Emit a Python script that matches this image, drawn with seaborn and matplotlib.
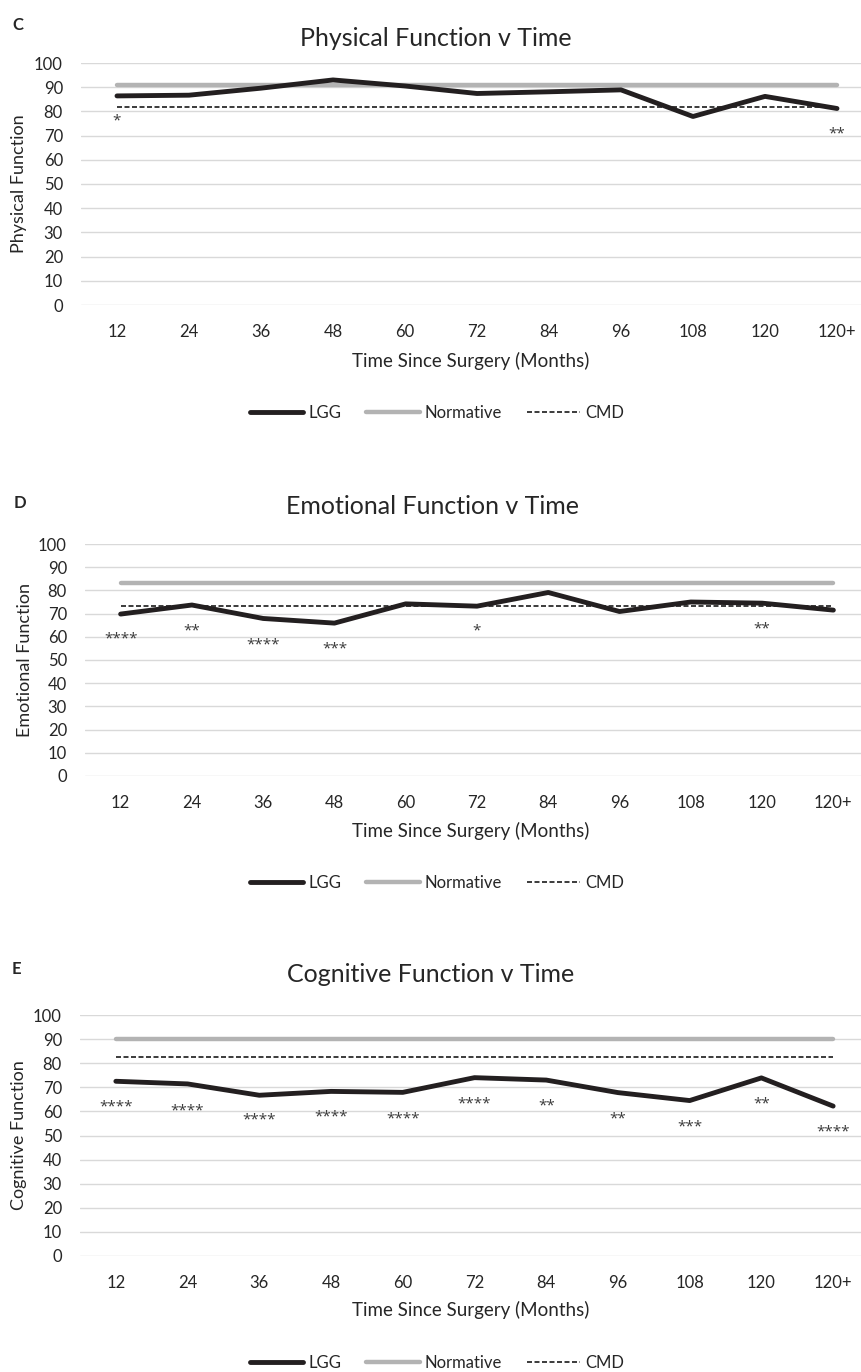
import matplotlib
matplotlib.use('Agg')
import matplotlib.pyplot as plt
import pandas as pd
import seaborn as sns

months = ['12', '24', '36', '48', '60', '72', '84', '96', '108', '120', '120+']

# Physical function
physical_lgg = [86.4, 86.7, 89.6, 93.0, 90.5, 87.4, 88.1, 88.9, 77.9, 86.2, 81.2]
physical_norm = 91.0
physical_cmd = 82.0
physical_star_at = ['12', '120+']
physical_star_txt = ['*', '**']
physical_star_y = [77.2, 71.9]

# Emotional function
emotional_lgg = [69.8, 73.7, 67.9, 65.9, 74.2, 73.2, 79.1, 70.9, 75.0, 74.5, 71.5]
emotional_norm = 83.2
emotional_cmd = 73.1
emotional_star_at = ['12', '24', '36', '48', '72', '120']
emotional_star_txt = ['****', '**', '****', '***', '*', '**']
emotional_star_y = [60.1, 63.9, 57.7, 56.1, 63.5, 64.7]

# Cognitive function
cognitive_lgg = [72.5, 71.4, 66.7, 68.3, 67.9, 74.0, 73.0, 67.8, 64.5, 73.9, 62.2]
cognitive_norm = 90.2
cognitive_cmd = 82.4
cognitive_star_at = months
cognitive_star_txt = ['****', '****', '****', '****', '****', '****', '**', '**', '***', '**', '****']
cognitive_star_y = [63.1, 61.5, 57.4, 58.9, 58.2, 64.3, 63.3, 58.2, 54.8, 64.2, 52.6]

sns.set_style('white')
plt.rcParams['font.family'] = ['Lato', 'DejaVu Sans']
plt.rcParams['text.color'] = '#262626'

W, H = 861, 1372
fig = plt.figure(figsize=(W / 100, H / 100), dpi=100)

panels = [
    dict(letter='C', letter_xy=(12, 25), title='Physical Function v Time', title_xy=(436, 38),
         ylabel='Physical Function', box=(81, 63, 873, 305), ylab_x=19, xlab_y=361, legend_y=413,
         lgg=physical_lgg, norm=physical_norm, cmd=physical_cmd,
         s_at=physical_star_at, s_txt=physical_star_txt, s_y=physical_star_y),
    dict(letter='D', letter_xy=(14, 503), title='Emotional Function v Time', title_xy=(433, 506),
         ylabel='Emotional Function', box=(85, 544, 869, 776), ylab_x=25, xlab_y=831, legend_y=883,
         lgg=emotional_lgg, norm=emotional_norm, cmd=emotional_cmd,
         s_at=emotional_star_at, s_txt=emotional_star_txt, s_y=emotional_star_y),
    dict(letter='E', letter_xy=(12, 969), title='Cognitive Function v Time', title_xy=(431, 975),
         ylabel='Cognitive Function', box=(80, 1015, 869, 1256), ylab_x=19, xlab_y=1310, legend_y=1363,
         lgg=cognitive_lgg, norm=cognitive_norm, cmd=cognitive_cmd,
         s_at=cognitive_star_at, s_txt=cognitive_star_txt, s_y=cognitive_star_y),
]

for p in panels:
    x0, y0, x1, y1 = p['box']
    ax = fig.add_axes([x0 / W, 1 - y1 / H, (x1 - x0) / W, (y1 - y0) / H])

    df = pd.DataFrame({'month': months, 'LGG': p['lgg'],
                       'Normative': [p['norm']] * len(months),
                       'CMD': [p['cmd']] * len(months)})

    sns.lineplot(data=df, x='month', y='Normative', ax=ax, sort=False, color='#b3b3b3',
                 lw=3.2, label='Normative', solid_capstyle='round', zorder=3)
    sns.lineplot(data=df, x='month', y='CMD', ax=ax, sort=False, color='#1a1a1a',
                 lw=1.2, label='CMD', dashes=(3, 1.5), zorder=4)
    sns.lineplot(data=df, x='month', y='LGG', ax=ax, sort=False, color='#231f20',
                 lw=3.5, label='LGG', solid_capstyle='round', zorder=5)

    # significance stars under the LGG line
    for m, t, y in zip(p['s_at'], p['s_txt'], p['s_y']):
        ax.annotate(t, (months.index(m), y), xytext=(0, -2), textcoords='offset points',
                    ha='center', va='center', fontsize=11, color='#3a3a3a',
                    family=['Open Sans', 'DejaVu Sans'])

    ax.set_xlim(-0.5, len(months) - 0.5)
    ax.set_ylim(0, 100)
    ax.set_yticks(range(0, 101, 10))
    ax.grid(axis='y', color='#d9d9d9', lw=1)
    ax.grid(axis='x', visible=False)
    ax.set_axisbelow(True)
    sns.despine(ax=ax, left=True, bottom=True)
    ax.tick_params(axis='both', length=0, labelsize=12, colors='#262626')
    ax.tick_params(axis='y', pad=13)
    ax.tick_params(axis='x', pad=14)
    ax.set_xlabel('Time Since Surgery (Months)', fontsize=13.5, va='center')
    ax.set_ylabel(p['ylabel'], fontsize=13, va='center')
    ax.yaxis.set_label_coords((p['ylab_x'] - x0) / (x1 - x0), 0.5)
    ax.xaxis.set_label_coords(((W + 81) / 2 - x0) / (x1 - x0), (y1 - p['xlab_y']) / (y1 - y0))

    handles, labels = ax.get_legend_handles_labels()
    order = [labels.index(n) for n in ['LGG', 'Normative', 'CMD']]
    ax.legend([handles[i] for i in order], [labels[i] for i in order],
              loc='center', bbox_to_anchor=(437 / W, 1 - p['legend_y'] / H),
              bbox_transform=fig.transFigure, ncol=3, frameon=False, fontsize=12,
              handlelength=3.2, handletextpad=0.3, columnspacing=1.5)

    fig.text(p['title_xy'][0] / W, 1 - p['title_xy'][1] / H, p['title'],
             ha='center', va='center', fontsize=18)
    fig.text(p['letter_xy'][0] / W, 1 - p['letter_xy'][1] / H, p['letter'],
             ha='left', va='center', fontsize=12, fontweight='bold')

fig.savefig('out.png', dpi=100)
